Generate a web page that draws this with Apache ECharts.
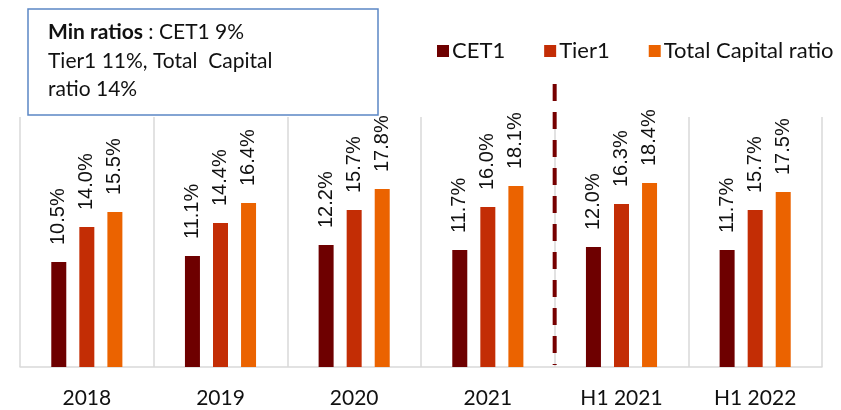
<!DOCTYPE html>
<html>
<head>
<meta charset="utf-8">
<script src="https://cdn.jsdelivr.net/npm/echarts@6/dist/echarts.min.js"></script>
<style>
  html, body { margin: 0; padding: 0; background: #fff; }
  #chart { width: 841px; height: 410px; }
</style>
</head>
<body>
<div id="chart"></div>
<script>
  // categories and ratios (%)
  const categories = ['2018', '2019', '2020', '2021', 'H1 2021', 'H1 2022'];
  const cet1 = [10.5, 11.1, 12.2, 11.7, 12.0, 11.7];
  const tier1 = [14.0, 14.4, 15.7, 16.0, 16.3, 15.7];
  const totalCapital = [15.5, 16.4, 17.8, 18.1, 18.4, 17.5];
  const seriesNames = ['CET1', 'Tier1', 'Total Capital ratio'];
  const colors = ['#6e0000', '#c32d05', '#eb6300'];

  const chart = echarts.init(document.getElementById('chart'));

  const labelStyle = {
    show: true,
    position: 'top',
    rotate: 90,
    align: 'left',
    verticalAlign: 'middle',
    distance: 17,
    fontFamily: '"Liberation Sans", Arial, sans-serif',
    fontSize: 20,
    color: '#111',
    formatter: p => p.value.toFixed(1) + '%'
  };

  function mkSeries(name, data, color) {
    return {
      name: name,
      type: 'bar',
      data: data,
      barWidth: 15,
      barGap: '87%',
      itemStyle: { color: color },
      label: labelStyle
    };
  }

  chart.setOption({
    animation: false,
    color: colors,
    grid: { left: 20, right: 19, top: 117, bottom: 43 },
    legend: {
      left: 432,
      top: 35,
      icon: 'rect',
      itemWidth: 12,
      itemHeight: 12,
      itemGap: 39,
      textStyle: { fontFamily: 'Lato, sans-serif', fontSize: 22, color: '#111', padding: [0, 0, 0, -2] },
      data: seriesNames
    },
    xAxis: {
      type: 'category',
      data: categories,
      axisLine: { lineStyle: { color: '#d9d9d9', width: 1.5 } },
      axisTick: { show: false },
      splitLine: { show: true, lineStyle: { color: '#d9d9d9', width: 1.5 } },
      axisLabel: { fontFamily: 'Lato, sans-serif', fontSize: 21, color: '#111', margin: 21 }
    },
    yAxis: {
      type: 'value',
      min: 0,
      max: 25,
      show: false,
      splitLine: { show: false }
    },
    series: [
      mkSeries(seriesNames[0], cet1, colors[0]),
      mkSeries(seriesNames[1], tier1, colors[1]),
      mkSeries(seriesNames[2], totalCapital, colors[2])
    ]
  });

  // dashed divider between full years and half years
  const x3 = chart.convertToPixel({ xAxisIndex: 0 }, 3);
  const x4 = chart.convertToPixel({ xAxisIndex: 0 }, 4);
  const xDiv = (x3 + x4) / 2;
  const yBase = chart.convertToPixel({ yAxisIndex: 0 }, 0);

  chart.setOption({
    graphic: [
      {
        type: 'line',
        shape: { x1: xDiv, y1: 84, x2: xDiv, y2: yBase - 2 },
        style: { stroke: '#760000', lineWidth: 4, lineDash: [17, 11] },
        z: 10
      },
      {
        type: 'rect',
        shape: { x: 28, y: 9, width: 350, height: 106 },
        style: { fill: '#fff', stroke: '#5b87c5', lineWidth: 1.5 },
        z: 10
      },
      {
        type: 'text',
        left: 48,
        top: 18,
        z: 11,
        style: {
          text: '{b|Min ratios} : CET1 9%\nTier1 11%, Total  Capital\nratio 14%',
          fontFamily: 'Lato, sans-serif',
          fontSize: 21,
          lineHeight: 28.5,
          fill: '#111',
          rich: {
            b: { fontWeight: 'bold', fontFamily: 'Lato, sans-serif', fontSize: 21, lineHeight: 28.5, fill: '#111' }
          }
        }
      }
    ]
  });
</script>
</body>
</html>
